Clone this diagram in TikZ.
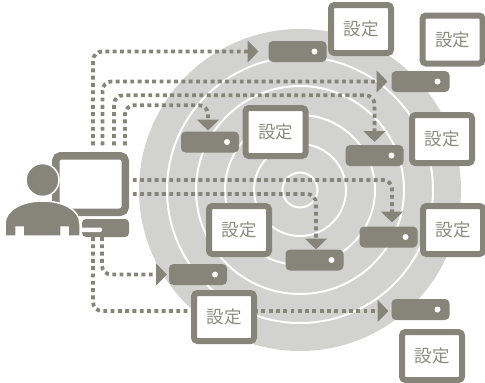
\documentclass[tikz,border=0pt]{standalone}
\usepackage{fontspec}
\newfontfamily\jpfont{Noto Sans CJK JP}
\usetikzlibrary{arrows.meta,backgrounds}
\definecolor{ink}{HTML}{85857A}
\definecolor{disc}{HTML}{D2D2D0}
\definecolor{label}{HTML}{8C8C83}
\pgfdeclarelayer{backdrop}
\pgfdeclarelayer{wires}
\pgfsetlayers{backdrop,wires,main}
\tikzset{
  x=1pt,y=-1pt,
  server/.style={rectangle,fill=ink,rounded corners=4.5pt,minimum width=58pt,minimum height=21pt,inner sep=0pt,outer sep=0pt},
  led/.style={circle,fill=white,minimum size=6pt,inner sep=0pt,outer sep=0pt},
  setting/.style={rectangle,draw=ink,fill=white,line width=6pt,rounded corners=3.5pt,minimum width=60pt,minimum height=48pt,inner sep=0pt,outer sep=0pt,text=label,font=\jpfont\fontsize{17.5}{20}\selectfont},
  conn/.style={draw=ink,line width=3.8pt,dash pattern=on 3.9pt off 3.4pt,rounded corners=9pt},
  head/.style={-{Triangle[length=11pt,width=21.5pt,fill=ink]}},
  ring/.style={draw=white,line width=2pt},
}
\begin{document}
\begin{tikzpicture}
\useasboundingbox (0,0) rectangle (485,383);
\begin{pgfonlayer}{backdrop}
\fill[disc] (300,190) circle[radius=161pt];
\foreach \r in {17.5,46,75,104,133}{\draw[ring] (300,190) circle[radius=\r pt];}
\end{pgfonlayer}

% servers
\node[server] (s1) at (297.5,51.5) {};
\node[server] (s2) at (420.5,81.5) {};
\node[server] (s3) at (374.5,155.5) {};
\node[server] (s4) at (210,142) {};
\node[server] (s5) at (388.5,237) {};
\node[server] (s6) at (314.5,260) {};
\node[server] (s7) at (198,274.5) {};
\node[server] (s8) at (420.5,309.5) {};
\foreach \s in {s1,s2,s3,s4,s5,s6,s7,s8}{\node[led] (\s-led) at ([xshift=17pt]\s.center) {};}

% settings
\node[setting] (a) at (361,29) {設定};
\node[setting] (b) at (452.5,39.5) {設定};
\node[setting] (c) at (275.5,132) {設定};
\node[setting] (d) at (442,139) {設定};
\node[setting] (e) at (453,230) {設定};
\node[setting] (f) at (239,230) {設定};
\node[setting] (g) at (224,317) {設定};
\node[setting] (h) at (432,356) {設定};

% monitor and keyboard
\node[rectangle,draw=ink,line width=7.5pt,fill=white,rounded corners=5pt,minimum width=69.5pt,minimum height=56.5pt,inner sep=0pt,outer sep=0pt] (mon) at (90.5,184) {};
\node[rectangle,fill=ink,rounded corners=4pt,minimum width=47pt,minimum height=18pt,inner sep=0pt,outer sep=0pt] (key) at (105.5,228) {};
\fill[white] (80,227.5) -- (100,227.5) arc[start angle=90,end angle=-90,radius=2.25pt] -- (80,232) -- cycle;

% person
\draw[white,line width=1.5pt,fill=ink] (5,236) -- (5,224) .. controls (5,210) and (22,201) .. (42.5,201) .. controls (63,201) and (80,210) .. (80,224) -- (80,236) -- (68,236) -- (68,227) -- (61,227) -- (61,236) -- (23,236) -- (23,227) -- (16,227) -- (16,236) -- cycle;
\node[circle,draw=white,line width=1.5pt,fill=ink,minimum size=33pt,inner sep=0pt,outer sep=0pt] (hd) at (42.5,180) {};

% connectors
\begin{pgfonlayer}{wires}
\draw[conn,head,shorten <=10.5pt,shorten >=10pt] ([xshift=2.5pt]mon.north) |- (s1.west);
\draw[conn,head,shorten <=10.5pt,shorten >=4pt] ([xshift=12pt]mon.north) |- (s2.west);
\draw[conn,head,shorten <=10.5pt,shorten >=3pt] ([xshift=23.5pt]mon.north) -- ++(0,-60.5) -| (s3.north);
\draw[conn,head,shorten <=10.5pt,shorten >=1pt] ([xshift=34.5pt]mon.north) -- ++(0,-50.5) -| ([xshift=-2pt]s4.north);
\draw[conn,head,shorten <=7.5pt,shorten >=4pt] ([yshift=4pt]mon.east) -| ([xshift=3.5pt]s5.north);
\draw[conn,head,shorten <=7.5pt,shorten >=0pt] ([yshift=-10pt]mon.east) -| ([xshift=1.5pt]s6.north);
\draw[conn,head,shorten >=2pt] ([xshift=-3.5pt]key.south) |- (s7.west);
\draw[conn] ([xshift=-12.5pt]key.south) |- ([yshift=6pt]g.west);
\draw[conn,head,shorten >=3pt] ([yshift=6pt]g.east) -- ([yshift=-1.5pt]s8.west);
\end{pgfonlayer}
\end{tikzpicture}
\end{document}
